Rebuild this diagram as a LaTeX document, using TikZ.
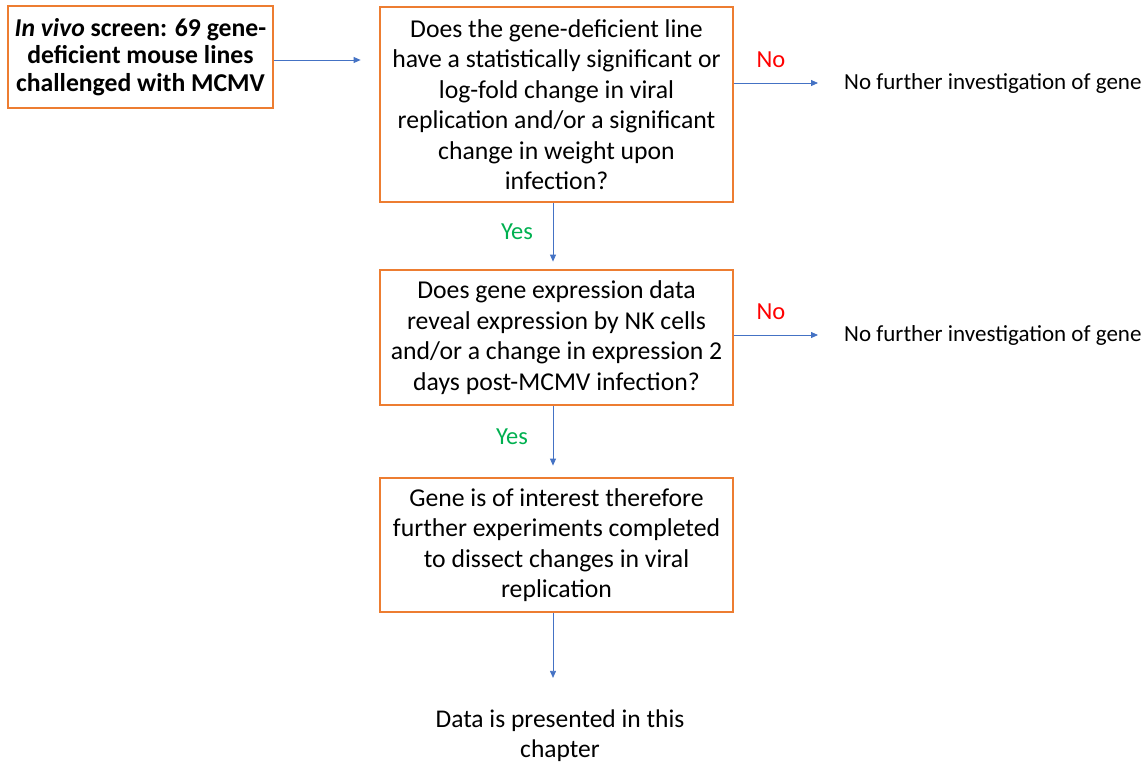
\documentclass[tikz,border=0pt]{standalone}
\usepackage{fontspec}
\setmainfont{Carlito}
\usetikzlibrary{arrows.meta}
\definecolor{boxorange}{HTML}{ED7D31}
\definecolor{arrowblue}{HTML}{4472C4}
\definecolor{yesgreen}{HTML}{00B050}
\definecolor{nored}{HTML}{FF0000}
\tikzset{
  box/.style={draw=boxorange, line width=2.8pt, align=center, inner sep=0pt,
    font=\fontsize{25.7}{30.5}\selectfont},
  plain/.style={align=center, inner sep=0pt, font=\fontsize{25.5}{30}\selectfont},
  side/.style={inner sep=0pt, font=\fontsize{23}{28}\selectfont},
  lbl/.style={inner sep=0pt, font=\fontsize{24.5}{28}\selectfont},
  arr/.style={draw=arrowblue, line width=0.8pt, -{Triangle[length=7pt,width=6pt]}},
}
\begin{document}
\begin{tikzpicture}[x=1pt,y=-1pt]
\useasboundingbox (0,0) rectangle (1148,766);
\node[box, minimum width=265pt, minimum height=102pt, font=\fontsize{25.7}{27.5}\selectfont\bfseries] (b1) at (140.5,57)
  {\textit{In vivo} screen: 69 gene-\\deficient mouse lines\\challenged with MCMV};
\node[box, minimum width=353pt, minimum height=195pt] (b2) at (556.5,104.5)
  {Does the gene-deficient line\\have a statistically significant or\\log-fold change in viral\\replication and/or a significant\\change in weight upon\\infection?};
\node[box, minimum width=353pt, minimum height=135pt] (b3) at (556.5,337.5)
  {Does gene expression data\\reveal expression by NK cells\\and/or a change in expression 2\\days post-MCMV infection?};
\node[box, minimum width=353pt, minimum height=134pt] (b4) at (556.5,545)
  {Gene is of interest therefore\\further experiments completed\\to dissect changes in viral\\replication};
\node[side, anchor=west] (n1) at (844,83) {No further investigation of gene};
\node[side, anchor=west] (n2) at (844,335) {No further investigation of gene};
\node[plain] (d) at (560,736) {Data is presented in this\\chapter};
\node[lbl, text=nored] (no1) at (771,60) {No};
\node[lbl, text=nored] (no2) at (771,312) {No};
\node[lbl, text=yesgreen] (yes1) at (517,232) {Yes};
\node[lbl, text=yesgreen] (yes2) at (512,437) {Yes};
\draw[arr, shorten >=18pt] (b1.east |- 0,60) coordinate (s1) -- (s1 -| b2.west);
\draw[arr, shorten >=26pt] (b2.east |- n1) -- (n1.west);
\draw[arr, shorten >=26pt] (b3.east |- n2) -- (n2.west);
\draw[arr, shorten >=7pt] (b2.south -| 553,0) coordinate (s2) -- (s2 |- b3.north);
\draw[arr, shorten >=11pt] (b3.south -| 553,0) coordinate (s3) -- (s3 |- b4.north);
\draw[arr, shorten >=32pt] (b4.south -| 553,0) coordinate (s4) -- (s4 |- d.north);
\end{tikzpicture}
\end{document}
